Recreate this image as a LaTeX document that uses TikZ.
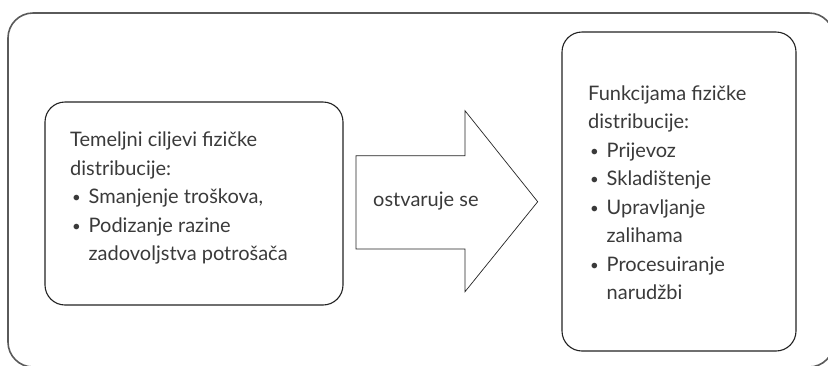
\documentclass[tikz,border=0pt]{standalone}
\usepackage{fontspec}
\setmainfont{Lato}
\definecolor{txt}{HTML}{3A3A3A}
\definecolor{outerc}{HTML}{5A5A5A}
\definecolor{boxc}{HTML}{222222}
\newcommand{\bul}{\makebox[18.5pt][l]{\hspace{2pt}\raisebox{1pt}{\fontsize{15}{15}\selectfont •}}}
\newcommand{\ind}{\hspace*{18.5pt}}
\begin{document}
\begin{tikzpicture}[x=1pt,y=-1pt,
  outerbox/.style={draw=outerc, line width=1.6pt, rounded corners=25pt},
  roundbox/.style={draw=boxc, line width=1.1pt, rounded corners=20pt, minimum width=#1},
  arrowshape/.style={draw=boxc, line width=0.7pt},
  lbl/.style={text=txt, inner sep=0pt, font=\fontsize{20}{28.5}\selectfont}
]
\useasboundingbox (0,0) rectangle (828,365);
\begin{scope}
\clip (0,0) rectangle (828,365);
\draw[outerbox] (8,13) rectangle (834,367);
\end{scope}
% boxes
\node[roundbox=298pt, minimum height=203pt] (left) at (194,203.5) {};
\node[roundbox=234pt, minimum height=319pt] (right) at (679,191.5) {};
% arrow
\draw[arrowshape] (356,155.7) -- (465,155.7) -- (465,110.7) -- (537.7,201.7) -- (465,291.7) -- (465,249) -- (356,249) -- cycle;
\node[lbl, anchor=base west] (arrtxt) at (373,206.7) {ostvaruje se};
% texts
\node[lbl, anchor=base west] (ltxt) at (70,146.7) {\begin{tabular}[t]{@{}l@{}}
Temeljni ciljevi fizičke\\
distribucije:\\
\bul Smanjenje troškova,\\
\bul Podizanje razine\\
\ind zadovoljstva potrošača
\end{tabular}};
\node[lbl, anchor=base west] (rtxt) at (588,100) {\begin{tabular}[t]{@{}l@{}}
Funkcijama fizičke\\
distribucije:\\
\bul Prijevoz\\
\bul Skladištenje\\
\bul Upravljanje\\
\ind zalihama\\
\bul Procesuiranje\\
\ind narudžbi
\end{tabular}};
\end{tikzpicture}
\end{document}
